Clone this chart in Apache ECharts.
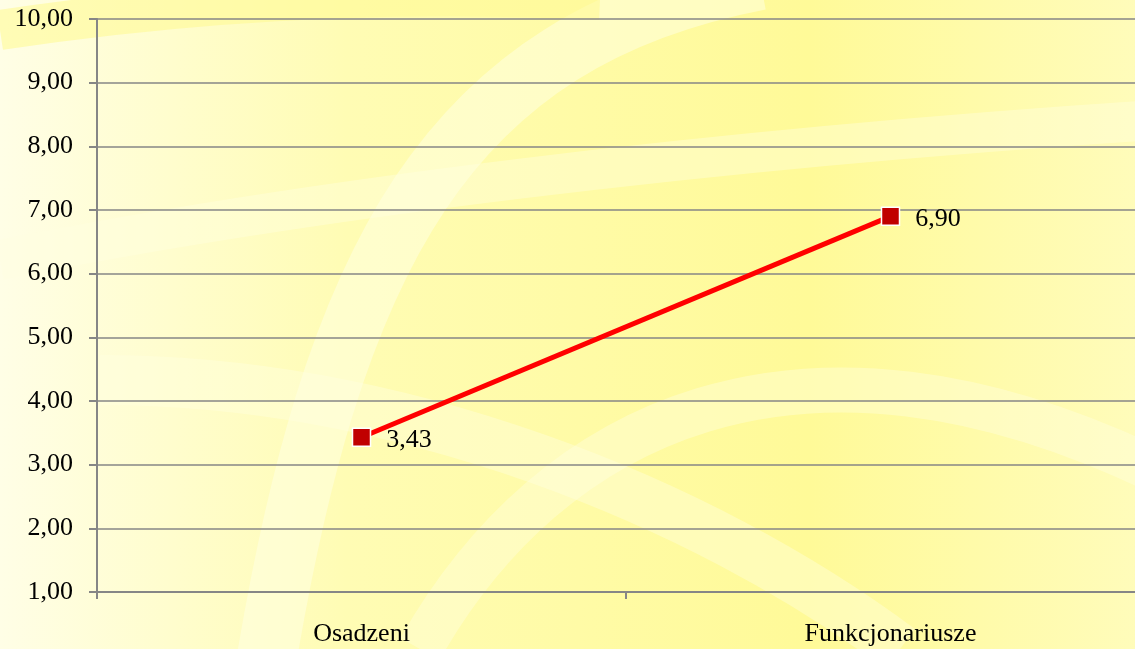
<!DOCTYPE html>
<html>
<head>
<meta charset="utf-8">
<script src="https://cdn.jsdelivr.net/npm/echarts@6/dist/echarts.min.js"></script>
<style>
  html, body { margin: 0; padding: 0; overflow: hidden; }
  /* obszar wykresu wychodzi poza prawa krawedz okna, jak w oryginale */
  #chart { width: 1155px; height: 649px; }
</style>
</head>
<body>
<div id="chart"></div>
<script>
// dane wykresu
var categories = ['Osadzeni', 'Funkcjonariusze'];
var values = [3.43, 6.90];
var yMin = 1, yMax = 10, yStep = 1;

function fmt(v) {
	return v.toFixed(2).replace('.', ',');
}

var chart = echarts.init(document.getElementById('chart'));

var option = {
	backgroundColor: {
		type: 'linear', x: 0, y: 0, x2: 1, y2: 0,
		colorStops: [
			{ offset: 0, color: '#fffee6' },
			{ offset: 0.3, color: '#fffcb4' },
			{ offset: 0.7, color: '#fffa98' },
			{ offset: 1, color: '#fffcbc' }
		]
	},
	// tlo - jasne pasy
	graphic: [
		{ type: 'bezierCurve', z: -10, silent: true,
		  shape: { x1: 260, y1: 700, cpx1: 330, cpy1: 250, cpx2: 450, cpy2: 40, x2: 760, y2: -20 },
		  style: { stroke: 'rgba(255,255,230,0.5)', lineWidth: 60, fill: null } },
		{ type: 'bezierCurve', z: -10, silent: true,
		  shape: { x1: 0, y1: 260, cpx1: 300, cpy1: 200, cpx2: 700, cpy2: 150, x2: 1155, y2: 120 },
		  style: { stroke: 'rgba(255,255,225,0.4)', lineWidth: 40, fill: null } },
		{ type: 'bezierCurve', z: -10, silent: true,
		  shape: { x1: 100, y1: 380, cpx1: 400, cpy1: 380, cpx2: 700, cpy2: 500, x2: 900, y2: 649 },
		  style: { stroke: 'rgba(255,255,225,0.4)', lineWidth: 50, fill: null } },
		{ type: 'bezierCurve', z: -10, silent: true,
		  shape: { x1: 420, y1: 649, cpx1: 550, cpy1: 420, cpx2: 800, cpy2: 300, x2: 1155, y2: 470 },
		  style: { stroke: 'rgba(255,255,225,0.4)', lineWidth: 45, fill: null } },
		{ type: 'bezierCurve', z: -10, silent: true,
		  shape: { x1: 0, y1: 30, cpx1: 200, cpy1: 0, cpx2: 400, cpy2: -10, x2: 600, y2: 0 },
		  style: { stroke: 'rgba(255,250,150,0.6)', lineWidth: 40, fill: null } }
	],
	grid: {
		left: 97,
		top: 19,
		right: 0,
		bottom: 57,
		containLabel: false
	},
	xAxis: {
		type: 'category',
		data: categories,
		boundaryGap: true,
		axisLine: { lineStyle: { color: '#868686', width: 2 } },
		axisTick: { show: true, length: 7, lineStyle: { color: '#868686', width: 2 } },
		axisLabel: {
			color: '#000',
			fontFamily: 'Liberation Serif',
			fontSize: 26,
			margin: 29
		},
		splitLine: { show: false }
	},
	yAxis: {
		type: 'value',
		min: yMin,
		max: yMax,
		interval: yStep,
		axisLine: { show: true, lineStyle: { color: '#868686', width: 2 } },
		axisTick: { show: true, length: 8, lineStyle: { color: '#868686', width: 2 } },
		axisLabel: {
			color: '#000',
			fontFamily: 'Liberation Serif',
			fontSize: 26,
			margin: 24,
			formatter: function (v) { return fmt(v); }
		},
		splitLine: { show: true, lineStyle: { color: '#868686', width: 1.5 } }
	},
	series: [{
		type: 'line',
		data: values,
		symbol: 'rect',
		symbolSize: 18,
		lineStyle: { color: '#ff0000', width: 5 },
		itemStyle: { color: '#c00000', borderColor: '#ffffff', borderWidth: 1.5 },
		label: {
			show: true,
			position: 'right',
			distance: 15,
			color: '#000',
			fontFamily: 'Liberation Serif',
			fontSize: 26,
			offset: [0, 3],
			formatter: function (p) { return fmt(p.value); }
		},
		animation: false
	}]
};

chart.setOption(option);
</script>
</body>
</html>
